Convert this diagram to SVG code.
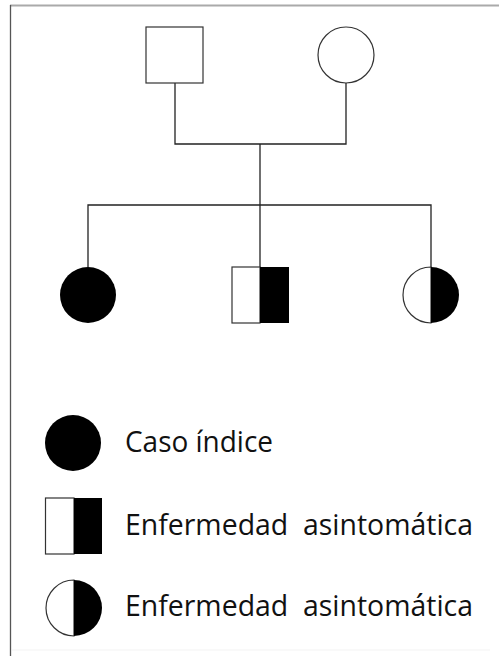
<svg xmlns="http://www.w3.org/2000/svg" width="499" height="656" viewBox="0 0 499 656">
<style>
.ln{stroke:#222;stroke-width:1.3;fill:none}
.sym{stroke:#333;stroke-width:1.2}
.txt{font-family:"Open Sans","Noto Sans","Liberation Sans",sans-serif;font-size:30px;fill:#111}
</style>
<rect width="499" height="656" fill="#fff"/>
<g id="frame">
<line x1="10" y1="5.5" x2="499" y2="5.5" stroke="#aaa" stroke-width="2"/>
<line x1="10.5" y1="5" x2="10.5" y2="656" stroke="#555" stroke-width="1.3"/>
<line x1="12" y1="650" x2="490" y2="650" stroke="#f3f3f3" stroke-width="1"/>
</g>
<g id="connectors">
<path class="ln" d="M175 83 V144 H346 V83"/>
<path class="ln" d="M260 144 V267"/>
<path class="ln" d="M88 267 V205 H431 V267"/>
</g>
<g id="father"><rect class="sym" x="146" y="27" width="57" height="56" fill="#fff"/></g>
<g id="mother"><circle class="sym" cx="346" cy="55" r="28" fill="#fff"/></g>
<g id="daughter1"><circle cx="88" cy="295" r="28" fill="#000"/></g>
<g id="son"><rect x="232" y="267" width="28" height="56" fill="#fff" class="sym"/><rect x="260" y="267" width="29" height="56" fill="#000"/></g>
<g id="daughter2"><path d="M431 267 A28 28 0 0 0 431 323 Z" fill="#fff" class="sym"/><path d="M431 267 A28 28 0 0 1 431 323 Z" fill="#000"/></g>
<g id="legend1"><circle cx="73" cy="443" r="28" fill="#000"/><text class="txt" x="125" y="452" textLength="148" lengthAdjust="spacingAndGlyphs">Caso índice</text></g>
<g id="legend2"><rect x="45.5" y="498" width="28.5" height="56" fill="#fff" class="sym"/><rect x="74" y="498" width="28" height="56" fill="#000"/><text class="txt" x="125" y="535" textLength="348" lengthAdjust="spacingAndGlyphs" xml:space="preserve">Enfermedad  asintomática</text></g>
<g id="legend3"><path d="M74 580 A28 28 0 0 0 74 636 Z" fill="#fff" class="sym"/><path d="M74 580 A28 28 0 0 1 74 636 Z" fill="#000"/><text class="txt" x="125" y="616" textLength="348" lengthAdjust="spacingAndGlyphs" xml:space="preserve">Enfermedad  asintomática</text></g>
</svg>
